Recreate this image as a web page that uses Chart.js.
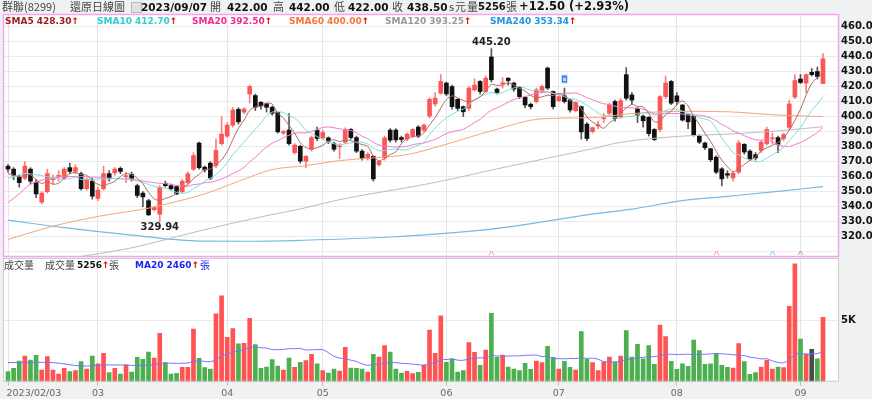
<!DOCTYPE html>
<html>
<head>
<meta charset="utf-8">
<script src="https://cdn.jsdelivr.net/npm/chart.js@4.4.0/dist/chart.umd.min.js"></script>
<style>
  body { margin:0; width:872px; height:399px; overflow:hidden; position:relative; background:#f0f2f2; font-family:"DejaVu Sans", sans-serif; }
  canvas { position:absolute; left:0; }
  .t { position:absolute; white-space:nowrap; line-height:1; }
  .g { font-family:"Noto Sans CJK TC", sans-serif; font-size:11px; color:#444; }
  .b { font-weight:bold; font-size:10.5px; color:#111; }
  .s { font-weight:bold; font-size:9px; }
  .up { color:#e00000; font-weight:bold; }
  .box { position:absolute; left:131px; top:2px; width:9px; height:9px; border:1px solid #bbb; background:#e2e2e2; }
</style>
</head>
<body>
<canvas id="kChart" width="872" height="258" style="top:0"></canvas>
<canvas id="volChart" width="872" height="141" style="top:258px"></canvas>

<span class="t g" style="left:2px;top:1px">群聯(8299)</span>
<span class="t g" style="left:70px;top:1px">還原日線圖</span>
<span class="box"></span>
<span class="t b" style="left:141px;top:1.5px">2023/09/07</span>
<span class="t g" style="left:210px;top:1px">開</span><span class="t b" style="left:227px;top:1.5px">422.00</span>
<span class="t g" style="left:273px;top:1px">高</span><span class="t b" style="left:289px;top:1.5px">442.00</span>
<span class="t g" style="left:334px;top:1px">低</span><span class="t b" style="left:348px;top:1.5px">422.00</span>
<span class="t g" style="left:392px;top:1px">收</span><span class="t b" style="left:407px;top:1.5px">438.50</span>
<span class="t g" style="left:449px;top:1px">s</span><span class="t g" style="left:455px;top:1px">元</span>
<span class="t g" style="left:467px;top:1px">量</span><span class="t b" style="left:478px;top:2px;font-size:10px">5256</span>
<span class="t g" style="left:506px;top:1px">張</span>
<span class="t b" style="left:519px;top:1px;font-size:11.5px">+12.50 (+2.93%)</span>

<span class="t s" style="left:5px;top:16.7px;color:#9b1c1c">SMA5 428.30<span class="up">↑</span></span>
<span class="t s" style="left:97px;top:16.7px;color:#2fd0d0">SMA10 412.70<span class="up">↑</span></span>
<span class="t s" style="left:192px;top:16.7px;color:#ee2a95">SMA20 392.50<span class="up">↑</span></span>
<span class="t s" style="left:289px;top:16.7px;color:#f5763a">SMA60 400.00<span class="up">↑</span></span>
<span class="t s" style="left:385px;top:16.7px;color:#9a9a9a">SMA120 393.25<span class="up">↑</span></span>
<span class="t s" style="left:490px;top:16.7px;color:#2496dc">SMA240 353.34<span class="up">↑</span></span>

<span class="t g" style="left:4px;top:260px;font-size:10px">成交量</span>
<span class="t g" style="left:45px;top:260px;font-size:10px">成交量</span>
<span class="t s" style="left:77px;top:260.7px;color:#111">5256<span class="up">↑</span></span>
<span class="t g" style="left:109px;top:260px;font-size:10px">張</span>
<span class="t s" style="left:135px;top:260.7px;color:#2222ee">MA20 2460<span class="up">↑</span></span>
<span class="t g" style="left:200px;top:260px;font-size:10px;color:#2222ee">張</span>

<script>
// daily candles 2023/02/03 - 2023/09/07, one entry per trading day
var opens = [367,365,359.5,359,365,356,343,350,358,360.5,359,366,363.5,362,352,357,345.5,352,362,362.5,
  365.5,360,361.5,354,349,344,338,335,355.5,354,353.4,350,356,365,382.4,366.3,369,367.4,382,387,
  394.3,404.8,403,415,414,409.5,408.6,406.2,402.8,389,391,376,380.2,370.3,378.2,391,385.8,385.8,382,380,
  383,391.4,386,377,372,373.5,368,372.4,391,391,386,385,387,393,391,400.3,408.4,415.6,422.3,420,
  411.5,406.6,405.5,417.8,423.4,416.7,439.7,418.3,422,425.5,422.3,419.3,412.9,408.2,410,416.7,432.3,416.7,410.6,413.8,
  411,403.9,406.6,395,390,394,398.8,402.2,410,399.9,427.9,414.4,405.5,400.3,399.5,391.4,391.4,413.3,423.4,413.8,
  407.7,401.7,400.3,387,382.4,378.6,373,365.2,362,359.2,363,381.5,377,374.6,377.5,382,385.4,386,385.4,392.8,
  413,425,422.3,429.5,430,422];
var highs = [368,366,361,370,366,358,350,365,361,364,366,369,368,363,359,359,353,367,364,366,
  366.5,363,363,355,350,345,340,354,357,355,354,358,363,376,383,367,370,385,400,396,
  406,406,406,421,415,410,409,407,403,391,402,382,381,374,387,393,391,386.5,383,382,
  392.5,392,387,378,376,374,371,387,392,392,387,389,392,394,395,412.5,416,428,423,421,
  412,407,420,425,424,427,445.2,419,426,426,423,420,413,409,419,421,433,417,414,419,
  412,410,407,396,393,397,402,409,411,412,432.6,416,406,401,400,392,414,427,424,416,
  408,402,401,388,383,379,374,366,364,363,384,382,378,376,384,393,389,387,389,411,
  428,428,428.5,432,433,442];
var lows = [363,358,353,358,355,346,342,349,355,357,358,362,362,351,351,345,344,351,357,361,
  362,356,357,346,340,334,337,329.94,353,351,348,349,355,364,365,363,358,366,381,386,
  393,395,402,409,404,405,403,401,389,388,381,375,369,366,377,384,385,382,377,372,
  382,385,376,371,371,357,367,371,383,383,383,384,386,386,390,399,407,415,414,405,
  404,400,404,417,415,416,423,415,419,421,417,412,406,405,409,416,418,405,410,409,
  403,403,385,384,389,392,396,401,397,399,411,408,396,393,387,384,390,412,408,408,
  397,392,387,382,378,370,362,353.8,359,357,362,375,371,371,376,381,382,376,384,392,
  412,422,416,427,425,422];
var closes = [365,361,356,367,357,348.5,349,362,358.5,360.5,365,363.5,366,352,358,347,351,362,359,365,
  363.5,360.5,358.5,347.5,346.5,334.6,339.5,353,354,352,348.5,357,362,374,366,364.5,359,377.5,388.3,394.3,
  404.4,396.5,405,420,406.2,407,406.2,402.2,389.8,390,382,381,370.3,373.5,386,385.4,389.4,383.6,378.2,380.4,
  391.4,386,377,372,374.8,358.5,370.1,385.8,384.3,384.5,384.8,388.3,391.4,387,394.3,411.5,412.2,423.4,415,406.6,
  405.5,403.2,419,421,416.7,425.6,424.5,416,422.3,424,418.3,413.3,407.7,406.6,417.8,420,419,406.6,413.3,410,
  404.4,409.3,389.8,385.4,392.6,394.3,399,407.7,398.8,410.6,412.2,411,401,397.2,388.7,384.7,413.3,422.3,408.9,410,
  397.7,396.5,387.6,383,379.3,371.3,363,358.5,361,362.3,382.4,376.4,372,372.5,383,391.4,385.6,381.5,388,408.4,
  424,422.7,427.9,427.9,426.7,438.5];
var volumes = [820,1090,1690,2100,1770,2160,955,2050,955,630,
  1090,820,900,1640,1040,2100,1470,2320,740,1090,
  630,1365,790,1990,1830,2430,1940,3960,1560,630,
  680,1170,1170,4310,1910,1150,1040,5540,7020,3630,
  4340,3090,3140,5190,3030,1090,1200,1800,1280,955,
  1940,1170,1580,1720,2240,1470,900,710,1040,870,
  2810,1120,1090,1040,790,2240,2020,2950,2430,1040,
  710,850,660,760,1365,4230,2320,5380,1580,1860,
  790,900,3190,2400,1340,2590,5600,1990,2180,1200,
  1040,900,1500,1010,1690,1560,2890,1990,1040,1670,
  1170,955,4100,1830,1560,900,1610,2020,1610,2100,
  4180,2020,3060,1880,2950,1420,4640,3690,1670,1010,
  1470,1260,3410,2540,1420,1470,2320,1340,1170,1120,
  3110,1640,600,740,1200,1750,1040,1200,1150,6170,
  9640,3490,2240,2650,1880,5256];

// month boundaries on the time axis
var monthTickIdx = [0,16,39,56,78,98,119,141];
var monthTickText = ['2023/02/03','03','04','05','06','07','08','09'];

// moving averages: the beginning (history before the first day)
var sma5Head = [[0,362],[1,361],[2,360],[3,361]];
var sma10Head = [[0,359],[3,362],[5,361.3],[7,360]];
var sma20Head = [[0,342.8],[2,348.5],[4,355],[7,358.5],[10,360],[16,359.6]];
var volMa20Head = [[0,1560],[8,1560],[13,1280],[17,1365]];
// long averages
var sma60Pts = [[0,318.2],[8,327],[16,333.5],[25,339],[30,343.5],[35,348.5],[41,356.9],[47,364.7],[53,367.3],[59,370.7],
  [65,372.5],[71,374.7],[77,380.5],[86,390.5],[95,398.5],[104,399.3],[111,402],[120,403.5],[128,403.2],[137,401],[145,400]];
var sma120Pts = [[0,298],[10,305],[22,312.6],[34,323.8],[46,334],[52,338.5],[59,344.7],[73,354],[79,358.5],[86,364.4],
  [95,371.5],[104,378.6],[109,382.9],[120,387],[128,388.3],[137,390.5],[145,393.25]];
var sma240Pts = [[0,331],[10,326],[22,321.1],[34,317.1],[43,317],[52,317.6],[68,319.8],[86,325],[104,335],[111,338.4],
  [120,344],[128,346.9],[137,350.2],[145,353.34]];

var priceTicks = [310,320,330,340,350,360,370,380,390,400,410,420,430,440,450,460];
var volTicks = [5000];
var volTickText = ['5K'];

var xMin = -0.89, xMax = 147.85;

function pts(list) { return list.map(function(p){ return {x:p[0], y:p[1]}; }); }
function movingAvg(arr, n, head) {
  var out = pts(head);
  for (var i = n - 1; i < arr.length; i++) {
    var s = 0;
    for (var k = i - n + 1; k <= i; k++) s += arr[k];
    out.push({x:i, y:s / n});
  }
  return out;
}

var RED = '#fb5656', BLACK = '#111';
var wickData = [], bodyData = [], bodyColors = [], wickColors = [];
var volData = [], volColors = [];
for (var i = 0; i < closes.length; i++) {
  var up = closes[i] >= opens[i];
  var lo = Math.min(opens[i], closes[i]), hi = Math.max(opens[i], closes[i]);
  if (hi - lo < 0.7) { var m = (hi + lo) / 2; lo = m - 0.35; hi = m + 0.35; }
  wickData.push({x:i, y:[lows[i], highs[i]]});
  bodyData.push({x:i, y:[lo, hi]});
  bodyColors.push(up ? RED : BLACK);
  wickColors.push(up ? '#ff7d7d' : '#555');
  volData.push({x:i, y:volumes[i]});
  var flat = i > 0 && closes[i] === closes[i-1];
  volColors.push(flat ? '#4a4a4a' : (up ? '#ff5252' : '#4caf50'));
}

var panelPlugin = {
  id: 'panel',
  beforeDraw: function(c) {
    var a = c.chartArea, ctx = c.ctx;
    ctx.save(); ctx.fillStyle = '#fff';
    ctx.fillRect(a.left, a.top, a.right - a.left, a.bottom - a.top);
    ctx.restore();
  },
  afterDraw: function(c, args, opts) {
    var a = c.chartArea, ctx = c.ctx;
    ctx.save(); ctx.strokeStyle = opts.color; ctx.lineWidth = opts.width;
    ctx.strokeRect(a.left + 0.5, a.top + 0.5, a.right - a.left - 1, a.bottom - a.top - 1);
    ctx.restore();
  }
};

var markPlugin = {
  id: 'marks',
  afterDatasetsDraw: function(c) {
    var ctx = c.ctx, x = c.scales.x, y = c.scales.y;
    var hiIdx = highs.indexOf(Math.max.apply(null, highs));
    var loIdx = lows.indexOf(Math.min.apply(null, lows));
    ctx.save();
    ctx.font = 'bold 10px "DejaVu Sans"'; ctx.fillStyle = '#222'; ctx.textAlign = 'center';
    ctx.textBaseline = 'bottom';
    ctx.fillText(highs[hiIdx].toFixed(2), x.getPixelForValue(hiIdx), y.getPixelForValue(highs[hiIdx]) - 1);
    ctx.textBaseline = 'top';
    ctx.fillText(lows[loIdx].toFixed(2), x.getPixelForValue(loIdx), y.getPixelForValue(lows[loIdx]) + 1);
    // small crossing markers along the bottom edge
    [[86,'#f48fd0'],[126,'#f48fd0'],[136,'#66d4e8'],[141,'#c98aa8']].forEach(function(m) {
      var px = Math.round(x.getPixelForValue(m[0])) + 0.5, b = c.chartArea.bottom - 2;
      ctx.strokeStyle = m[1]; ctx.lineWidth = 1;
      ctx.beginPath(); ctx.moveTo(px - 2.5, b); ctx.lineTo(px, b - 4); ctx.lineTo(px + 2.5, b); ctx.stroke();
    });
    // "s" tag above day 99
    var sx = x.getPixelForValue(99), sy = y.getPixelForValue(highs[99]) - 9;
    ctx.fillStyle = '#cfe0ff'; ctx.fillRect(sx - 3.5, sy - 4.5, 7, 9);
    ctx.fillStyle = '#3f7df0'; ctx.fillRect(sx - 2.5, sy - 3.5, 5, 7);
    ctx.fillStyle = '#fff'; ctx.font = 'bold 6px "DejaVu Sans"'; ctx.textBaseline = 'middle';
    ctx.fillText('s', sx, sy);
    ctx.restore();
  }
};

var monthLabelPlugin = {
  id: 'monthLabels',
  afterDraw: function(c) {
    var ctx = c.ctx, x = c.scales.x;
    ctx.save();
    ctx.font = '9.5px "DejaVu Sans"'; ctx.fillStyle = '#666'; ctx.textBaseline = 'middle';
    monthTickIdx.forEach(function(v, k) {
      ctx.textAlign = k === 0 ? 'left' : 'center';
      ctx.fillText(monthTickText[k], x.getPixelForValue(v) - (k === 0 ? 1.5 : 0), 136);
    });
    ctx.restore();
  }
};

function monthAxis(showTicks, height) {
  return {
    type: 'linear', min: xMin, max: xMax, offset: false,
    afterBuildTicks: function(s) { s.ticks = monthTickIdx.map(function(v){ return {value:v}; }); },
    afterFit: function(s) { s.height = height; s.paddingLeft = 0; s.paddingRight = 0; },
    ticks: { display: false },
    grid: { color: '#e6e6e6', offset: false, drawTicks: showTicks, tickLength: 4, tickColor: '#bbb' },
    border: { display: false }
  };
}
function rightAxis(opts) {
  return Object.assign({
    position: 'right',
    afterFit: function(s) { s.width = 33; s.paddingTop = 0; s.paddingBottom = 0; },
    grid: { color: '#ebebeb', drawTicks: false },
    border: { display: false }
  }, opts);
}

function line(data, color, width, smooth) {
  return { type: 'line', data: data, borderColor: color, borderWidth: width || 1, pointRadius: 0,
    tension: 0.3, cubicInterpolationMode: smooth ? 'monotone' : 'default', order: 1 };
}

new Chart(document.getElementById('kChart'), {
  type: 'bar',
  data: {
    datasets: [
      { data: wickData, backgroundColor: wickColors, barThickness: 1, grouped: false, order: 3 },
      { data: bodyData, backgroundColor: bodyColors, barThickness: 4, grouped: false, order: 2 },
      line(movingAvg(closes, 5, sma5Head), '#b06a64'),
      line(movingAvg(closes, 10, sma10Head), '#7edede'),
      line(movingAvg(closes, 20, sma20Head), '#f47ac8'),
      line(pts(sma60Pts), '#f9a479', 1, true),
      line(pts(sma120Pts), '#bdbdbd', 1, true),
      line(pts(sma240Pts), '#74bbe8', 1.2, true)
    ]
  },
  options: {
    responsive: false, animation: false, devicePixelRatio: 1,
    layout: { padding: { left: 3, top: 14, right: 0, bottom: 1 } },
    plugins: { legend: { display: false }, tooltip: { enabled: false },
      panel: { color: '#f5a3f2', width: 1.5 } },
    scales: {
      x: monthAxis(false, 0),
      y: rightAxis({
        min: 306.5, max: 468.3,
        afterBuildTicks: function(s) { s.ticks = priceTicks.map(function(v){ return {value:v}; }); },
        ticks: { padding: 2, color: '#111', font: { family: 'DejaVu Sans', size: 10, weight: 'bold' },
          callback: function(v) { return v >= 320 ? v.toFixed(1) : ''; } }
      })
    }
  },
  plugins: [panelPlugin, markPlugin]
});

new Chart(document.getElementById('volChart'), {
  type: 'bar',
  data: {
    datasets: [
      { data: volData, backgroundColor: volColors, barThickness: 4, grouped: false, order: 2 },
      line(movingAvg(volumes, 20, volMa20Head), '#7474ff')
    ]
  },
  options: {
    responsive: false, animation: false, devicePixelRatio: 1,
    layout: { padding: { left: 3, top: 0, right: 0, bottom: 0 } },
    plugins: { legend: { display: false }, tooltip: { enabled: false },
      panel: { color: '#c8cec8', width: 1 } },
    scales: {
      x: monthAxis(true, 17.3),
      y: rightAxis({
        min: 0, max: 10115,
        afterBuildTicks: function(s) { s.ticks = volTicks.map(function(v){ return {value:v}; }); },
        ticks: { padding: 2, color: '#111', font: { family: 'DejaVu Sans', size: 10, weight: 'bold' },
          callback: function(v) { var k = volTicks.indexOf(v); return k < 0 ? '' : volTickText[k]; } }
      })
    }
  },
  plugins: [panelPlugin, monthLabelPlugin]
});
</script>
</body>
</html>
